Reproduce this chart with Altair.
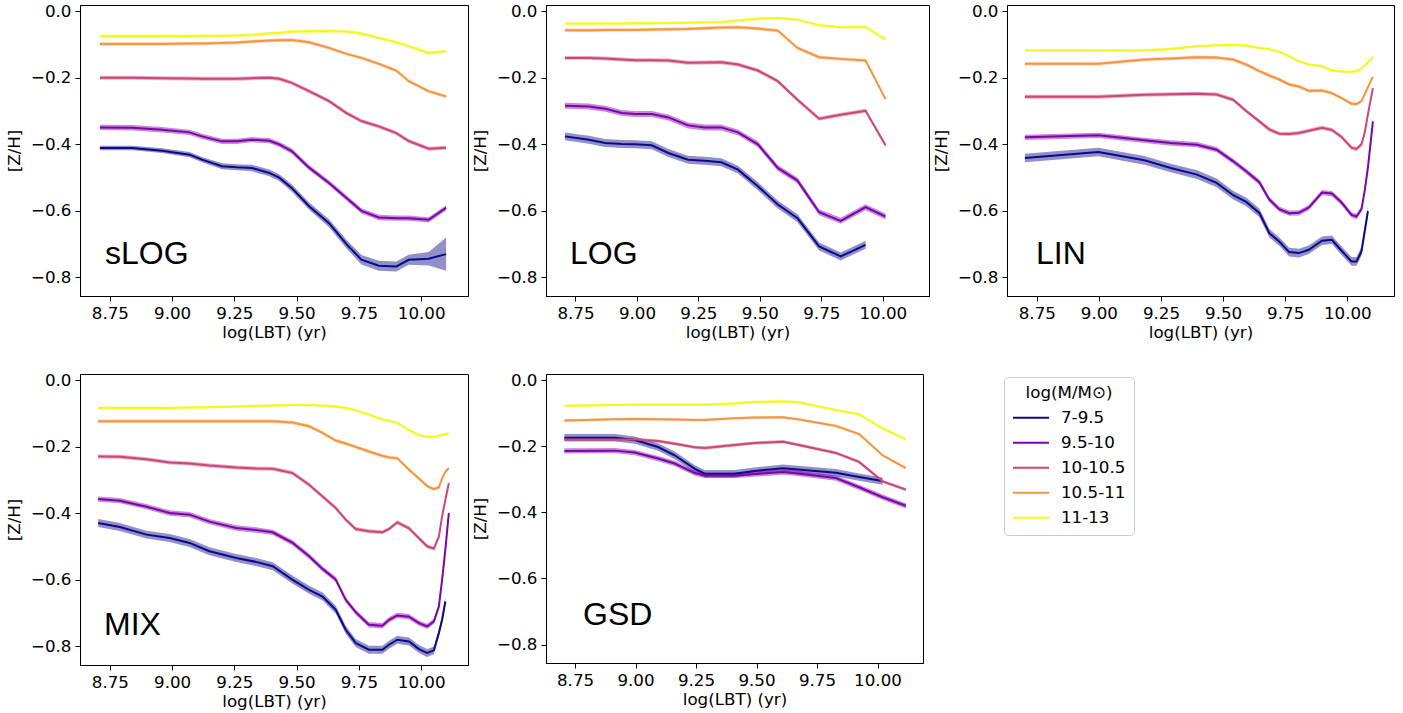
import altair as alt
import pandas as pd

SERIES = ["7-9.5", "9.5-10", "10-10.5", "10.5-11", "11-13"]
COLORS = ["#0d0887", "#7e03a8", "#cc4778", "#f89540", "#f0f921"]
X_TICKS = [8.75, 9.0, 9.25, 9.5, 9.75, 10.0]
Y_TICKS = [-0.8, -0.6, -0.4, -0.2, 0.0]

# ---------------- sLOG ----------------
slog_x = [8.71, 8.84, 8.96, 9.07, 9.12, 9.20, 9.26, 9.32, 9.39, 9.43, 9.48, 9.55, 9.63, 9.70, 9.76, 9.83, 9.90, 9.95, 10.03, 10.10]
slog_a = [-0.411, -0.411, -0.419, -0.431, -0.446, -0.466, -0.469, -0.471, -0.486, -0.500, -0.531, -0.586, -0.637, -0.700, -0.747, -0.765, -0.767, -0.747, -0.744, -0.730]
slog_b = [-0.349, -0.350, -0.356, -0.364, -0.376, -0.391, -0.391, -0.386, -0.389, -0.400, -0.420, -0.470, -0.516, -0.561, -0.600, -0.620, -0.622, -0.622, -0.627, -0.591]
slog_c = [-0.200, -0.200, -0.201, -0.202, -0.203, -0.203, -0.203, -0.201, -0.200, -0.203, -0.215, -0.240, -0.270, -0.306, -0.330, -0.346, -0.366, -0.390, -0.413, -0.410]
slog_d = [-0.098, -0.098, -0.098, -0.097, -0.097, -0.095, -0.094, -0.091, -0.088, -0.087, -0.086, -0.093, -0.110, -0.128, -0.140, -0.158, -0.178, -0.210, -0.240, -0.256]
slog_e = [-0.075, -0.075, -0.075, -0.075, -0.074, -0.074, -0.073, -0.071, -0.067, -0.065, -0.061, -0.060, -0.059, -0.061, -0.067, -0.080, -0.093, -0.105, -0.125, -0.120]
slog_err_a = [0.007, 0.007, 0.007, 0.008, 0.008, 0.009, 0.009, 0.010, 0.010, 0.010, 0.011, 0.011, 0.012, 0.013, 0.014, 0.015, 0.015, 0.015, 0.020, 0.050]
slog_err = [None, 0.008, 0.006, 0.005, 0.005]

# ---------------- LOG ----------------
log_x = [8.707, 8.804, 8.871, 8.939, 8.993, 9.06, 9.128, 9.208, 9.276, 9.343, 9.411, 9.492, 9.573, 9.653, 9.741, 9.829, 9.93, 10.011]
log_a = [-0.376, -0.386, -0.396, -0.399, -0.400, -0.403, -0.426, -0.446, -0.449, -0.454, -0.476, -0.526, -0.581, -0.622, -0.707, -0.737, -0.702, None]
log_b = [-0.284, -0.286, -0.293, -0.306, -0.309, -0.309, -0.319, -0.343, -0.349, -0.349, -0.364, -0.400, -0.471, -0.509, -0.604, -0.630, -0.589, -0.617]
log_c = [-0.140, -0.140, -0.142, -0.145, -0.147, -0.147, -0.148, -0.155, -0.154, -0.153, -0.160, -0.178, -0.210, -0.266, -0.323, -0.311, -0.299, -0.403]
log_d = [-0.057, -0.057, -0.056, -0.056, -0.056, -0.055, -0.054, -0.053, -0.051, -0.049, -0.048, -0.052, -0.058, -0.110, -0.138, -0.143, -0.148, -0.264]
log_e = [-0.037, -0.037, -0.037, -0.037, -0.036, -0.036, -0.035, -0.034, -0.033, -0.032, -0.028, -0.022, -0.020, -0.025, -0.042, -0.048, -0.047, -0.085]
log_err = [0.012, 0.009, 0.006, 0.005, 0.004]

# ---------------- LIN ----------------
lin_x = [8.702, 8.998, 9.183, 9.289, 9.395, 9.474, 9.541, 9.593, 9.646, 9.686, 9.726, 9.766, 9.805, 9.845, 9.898, 9.938, 9.977, 10.017, 10.037, 10.057, 10.070, 10.083, 10.103]
lin_a = [-0.441, -0.423, -0.448, -0.471, -0.491, -0.516, -0.553, -0.573, -0.606, -0.667, -0.692, -0.724, -0.727, -0.717, -0.690, -0.687, -0.720, -0.752, -0.752, -0.722, -0.662, -0.601, None]
lin_b = [-0.379, -0.373, -0.388, -0.396, -0.401, -0.416, -0.451, -0.481, -0.514, -0.566, -0.595, -0.607, -0.606, -0.590, -0.545, -0.548, -0.575, -0.612, -0.617, -0.595, -0.540, -0.470, -0.331]
lin_c = [-0.257, -0.257, -0.251, -0.249, -0.248, -0.250, -0.266, -0.300, -0.331, -0.355, -0.368, -0.369, -0.366, -0.359, -0.350, -0.357, -0.378, -0.410, -0.414, -0.400, -0.365, -0.310, -0.231]
lin_d = [-0.158, -0.158, -0.145, -0.142, -0.138, -0.139, -0.145, -0.160, -0.180, -0.193, -0.205, -0.220, -0.226, -0.239, -0.238, -0.246, -0.261, -0.278, -0.279, -0.270, -0.250, -0.228, -0.197]
lin_e = [-0.118, -0.118, -0.118, -0.113, -0.105, -0.102, -0.101, -0.103, -0.110, -0.114, -0.122, -0.135, -0.150, -0.160, -0.165, -0.178, -0.181, -0.182, -0.180, -0.172, -0.163, -0.153, -0.138]
lin_err = [0.013, 0.008, 0.006, 0.005, 0.004]

# ---------------- MIX ----------------
mix_x = [8.703, 8.79, 8.897, 8.99, 9.07, 9.15, 9.257, 9.337, 9.404, 9.484, 9.55, 9.604, 9.657, 9.697, 9.737, 9.79, 9.844, 9.871, 9.904, 9.951, 9.991, 10.024, 10.051, 10.071, 10.084, 10.097, 10.111]
mix_a = [-0.429, -0.441, -0.464, -0.474, -0.489, -0.514, -0.534, -0.546, -0.559, -0.600, -0.630, -0.650, -0.690, -0.750, -0.790, -0.810, -0.810, -0.795, -0.780, -0.785, -0.808, -0.820, -0.812, -0.760, -0.720, -0.665, None]
mix_b = [-0.357, -0.362, -0.380, -0.399, -0.404, -0.425, -0.444, -0.450, -0.457, -0.489, -0.529, -0.567, -0.599, -0.660, -0.697, -0.735, -0.738, -0.720, -0.707, -0.711, -0.730, -0.740, -0.725, -0.680, -0.600, -0.509, -0.399]
mix_c = [-0.229, -0.230, -0.237, -0.247, -0.250, -0.256, -0.262, -0.265, -0.266, -0.279, -0.314, -0.349, -0.384, -0.419, -0.447, -0.454, -0.457, -0.447, -0.427, -0.445, -0.475, -0.499, -0.506, -0.470, -0.409, -0.360, -0.309]
mix_d = [-0.123, -0.123, -0.123, -0.123, -0.123, -0.123, -0.123, -0.123, -0.123, -0.127, -0.138, -0.158, -0.181, -0.190, -0.200, -0.214, -0.227, -0.232, -0.234, -0.269, -0.295, -0.318, -0.327, -0.322, -0.295, -0.275, -0.264]
mix_e = [-0.083, -0.083, -0.083, -0.083, -0.082, -0.081, -0.079, -0.077, -0.076, -0.074, -0.074, -0.076, -0.079, -0.083, -0.090, -0.103, -0.118, -0.122, -0.128, -0.150, -0.165, -0.170, -0.170, -0.167, -0.164, -0.162, -0.160]
mix_err = [0.012, 0.008, 0.006, 0.005, 0.004]

# ---------------- GSD ----------------
gsd_x = [8.706, 8.915, 8.997, 9.093, 9.162, 9.245, 9.286, 9.409, 9.492, 9.609, 9.670, 9.828, 9.924, 10.021, 10.117]
gsd_a = [-0.174, -0.174, -0.181, -0.202, -0.227, -0.268, -0.283, -0.283, -0.275, -0.266, -0.270, -0.280, -0.293, -0.305, None]
gsd_b = [-0.214, -0.213, -0.219, -0.237, -0.252, -0.281, -0.288, -0.288, -0.284, -0.278, -0.282, -0.296, -0.324, -0.354, -0.380]
gsd_c = [-0.179, -0.179, -0.179, -0.184, -0.192, -0.203, -0.205, -0.196, -0.190, -0.186, -0.195, -0.220, -0.247, -0.306, -0.331]
gsd_d = [-0.122, -0.118, -0.117, -0.118, -0.119, -0.120, -0.120, -0.115, -0.113, -0.112, -0.118, -0.138, -0.163, -0.227, -0.266]
gsd_e = [-0.077, -0.075, -0.074, -0.074, -0.074, -0.074, -0.074, -0.070, -0.066, -0.064, -0.066, -0.090, -0.103, -0.146, -0.178]
gsd_err = [0.011, 0.008, 0.005, 0.004, 0.004]


def build_df(xs, ys_list, errs, first_err_list=None):
    rows = []
    for k, (name, ys) in enumerate(zip(SERIES, ys_list)):
        for i, (x, y) in enumerate(zip(xs, ys)):
            if y is None:
                continue
            e = errs[k]
            if k == 0 and first_err_list is not None:
                e = first_err_list[i]
            rows.append({"x": x, "y": y, "lo": y - e, "hi": y + e, "s": name, "o": k})
    return pd.DataFrame(rows)


XDOM = [8.63, 10.188]
YDOM = [-0.856, 0.019]
FS = 16.7

color = alt.Color(
    "s:N",
    scale=alt.Scale(domain=SERIES, range=COLORS),
    legend=alt.Legend(title="log(M/M\u2299)"),
    sort=SERIES,
)


def panel(df, label, w, h, lx, ly):
    xenc = alt.X("x:Q", scale=alt.Scale(domain=XDOM, nice=False, zero=False),
                 axis=alt.Axis(values=X_TICKS, format=".2f", title="log(LBT) (yr)"))
    band = alt.Chart(df).mark_area(opacity=0.45, interpolate="linear").encode(
        x=xenc,
        y=alt.Y("lo:Q", scale=alt.Scale(domain=YDOM, nice=False, zero=False),
                axis=alt.Axis(values=Y_TICKS, format=".1f", title="[Z/H]")),
        y2="hi:Q",
        color=color,
        order=alt.Order("o:Q"),
    )
    line = alt.Chart(df).mark_line(strokeWidth=2).encode(
        x=xenc,
        y=alt.Y("y:Q"),
        color=color,
        order=alt.Order("x:Q"),
    )
    txt = alt.Chart(pd.DataFrame({"t": [label]})).mark_text(
        align="left", baseline="alphabetic", font="Liberation Sans", fontSize=32, color="black"
    ).encode(text="t:N", x=alt.value(lx), y=alt.value(ly))
    return alt.layer(band, line, txt).properties(width=w, height=h)


p1 = panel(build_df(slog_x, [slog_a, slog_b, slog_c, slog_d, slog_e], slog_err, slog_err_a), "sLOG", 388, 291, 25, 259)
p2 = panel(build_df(log_x, [log_a, log_b, log_c, log_d, log_e], log_err), "LOG", 383, 291, 24, 259)
p3 = panel(build_df(lin_x, [lin_a, lin_b, lin_c, lin_d, lin_e], lin_err), "LIN", 387, 291, 29, 259)
p4 = panel(build_df(mix_x, [mix_a, mix_b, mix_c, mix_d, mix_e], mix_err), "MIX", 388, 291, 24, 261)
p5 = panel(build_df(gsd_x, [gsd_a, gsd_b, gsd_c, gsd_d, gsd_e], gsd_err), "GSD", 377, 289, 37, 251)

row1 = alt.hconcat(p1, p2, p3, spacing=2)
row2 = alt.hconcat(p4, p5, spacing=2)

chart = alt.vconcat(row1, row2, spacing=29).properties(
    padding={"left": 5, "top": 2, "right": 5, "bottom": 5},
    background="white",
).configure_view(
    stroke="black", strokeWidth=1
).configure_axis(
    labelFont="DejaVu Sans", labelFontSize=FS, labelColor="black",
    titleFont="DejaVu Sans", titleFontSize=FS, titleColor="black", titleFontWeight="normal",
    domainColor="black", tickColor="black", tickSize=5, labelPadding=4,
    grid=False,
).configure_axisX(
    titlePadding=3,
).configure_axisY(
    titlePadding=7,
).configure_legend(
    orient="none", legendX=924, legendY=372,
    titleFont="DejaVu Sans", titleFontSize=FS, titleFontWeight="normal", titleColor="black",
    titleAnchor="middle", titleAlign="center", titlePadding=6,
    labelFont="DejaVu Sans", labelFontSize=FS, labelColor="black",
    symbolType="M-1,0H3", symbolSize=324, symbolStrokeWidth=2, symbolOpacity=1,
    labelOffset=29, rowPadding=6,
    padding=8, strokeColor="#cccccc", fillColor="white", cornerRadius=4,
)

chart.save("out.html", embed_options={"renderer": "svg", "actions": False})
